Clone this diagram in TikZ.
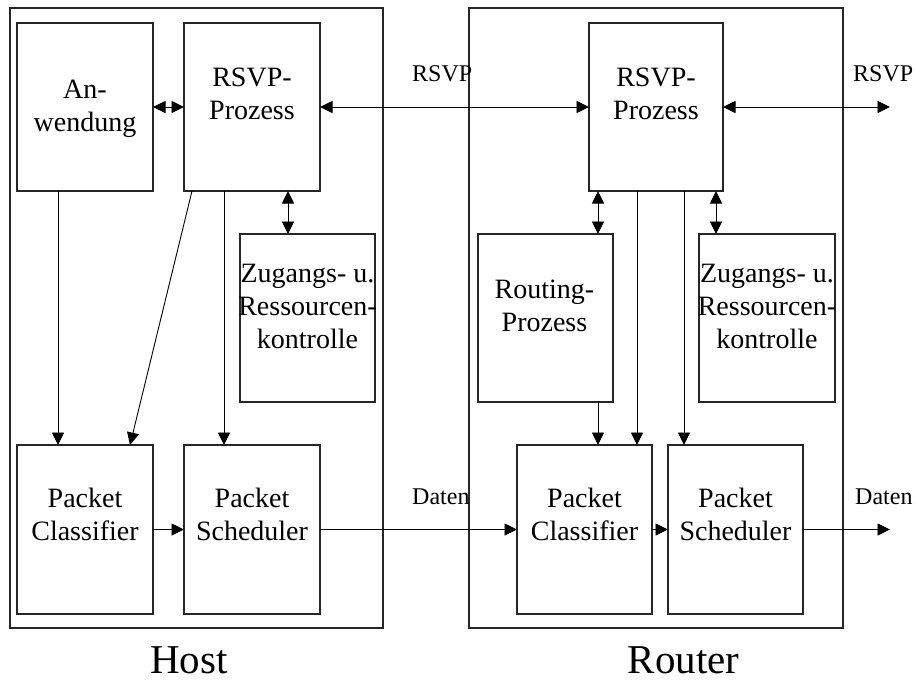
\documentclass[tikz,border=0pt]{standalone}
\usepackage{fontspec}
\setmainfont{Liberation Serif}
\usetikzlibrary{arrows.meta,calc}

\tikzset{
  frame/.style={draw=black!85, line width=1.1pt, inner sep=0pt, outer sep=0pt, anchor=north west},
  unit/.style={draw=black!85, line width=1.1pt, inner sep=0pt, outer sep=0pt, anchor=north west},
  boxtext/.style={font=\fontsize{28}{33}\selectfont, anchor=base, inner sep=0pt},
  sidetext/.style={font=\fontsize{24}{28}\selectfont, anchor=base west, inner sep=0pt},
  bigtext/.style={font=\fontsize{41}{48}\selectfont, anchor=base, inner sep=0pt},
  tip/.tip={Triangle[length=12.5pt,width=12pt]},
  conn/.style={line width=0.9pt, -tip},
  dconn/.style={line width=0.9pt, tip-tip}
}
\newcommand{\twolines}[2]{\begin{tabular}[t]{@{}c@{}}#1\\#2\end{tabular}}
\newcommand{\threelines}[3]{\begin{tabular}[t]{@{}c@{}}#1\\#2\\#3\end{tabular}}

\begin{document}
\begin{tikzpicture}[x=1pt,y=-1pt]
\useasboundingbox (0,0) rectangle (916,681);

% enclosing frames
\node[frame, minimum width=373pt, minimum height=620pt] (host) at (10,8) {};
\node[frame, minimum width=374pt, minimum height=620pt] (router) at (469,8) {};

% host components
\node[unit, minimum width=136pt, minimum height=168pt] (anw)   at (17,23) {};
\node[unit, minimum width=136pt, minimum height=168pt] (rsvpH) at (184,23) {};
\node[unit, minimum width=135pt, minimum height=168pt] (zugH)  at (240,234) {};
\node[unit, minimum width=136pt, minimum height=169pt] (pcH)   at (17,445) {};
\node[unit, minimum width=136pt, minimum height=169pt] (psH)   at (184,445) {};

% router components
\node[unit, minimum width=134pt, minimum height=168pt] (rsvpR) at (589,23) {};
\node[unit, minimum width=135pt, minimum height=168pt] (rout)  at (478,234) {};
\node[unit, minimum width=136pt, minimum height=168pt] (zugR)  at (699,234) {};
\node[unit, minimum width=135pt, minimum height=169pt] (pcR)   at (517,445) {};
\node[unit, minimum width=135pt, minimum height=169pt] (psR)   at (668,445) {};

% box captions
\node[boxtext] (anwT)   at (85,98)    {\twolines{An-}{wendung}};
\node[boxtext] (rsvpHT) at (252,86)   {\twolines{RSVP-}{Prozess}};
\node[boxtext] (zugHT)  at (307.5,282) {\threelines{Zugangs- u.}{Ressourcen-}{kontrolle}};
\node[boxtext] (pcHT)   at (85,507)   {\twolines{Packet}{Classifier}};
\node[boxtext] (psHT)   at (252,507)  {\twolines{Packet}{Scheduler}};
\node[boxtext] (rsvpRT) at (656,86)   {\twolines{RSVP-}{Prozess}};
\node[boxtext] (routT)  at (544.5,298) {\twolines{Routing-}{Prozess}};
\node[boxtext] (zugRT)  at (767,282)  {\threelines{Zugangs- u.}{Ressourcen-}{kontrolle}};
\node[boxtext] (pcRT)   at (584.5,507) {\twolines{Packet}{Classifier}};
\node[boxtext] (psRT)   at (735.5,507) {\twolines{Packet}{Scheduler}};

% flow labels
\node[sidetext] (rsvpL1) at (412,81)  {RSVP};
\node[sidetext] (rsvpL2) at (853,81)  {RSVP};
\node[sidetext] (datL1)  at (412,504) {Daten};
\node[sidetext] (datL2)  at (855,504) {Daten};

% device names
\node[bigtext] (hostT)   at (189,673) {Host};
\node[bigtext] (routerT) at (683.5,673) {Router};

% open ends
\coordinate (outRSVP) at (890,107);
\coordinate (outData) at (890,529.5);

% RSVP signalling
\draw[dconn] (anw.east) -- (rsvpH.west);
\draw[dconn] (rsvpH.east) -- (rsvpR.west);
\draw[dconn] (rsvpR.east) -- (outRSVP);

% host internals
\draw[conn] ([xshift=-27pt]anw.south) -- ([xshift=-27pt]pcH.north);
\draw[conn] ([xshift=-60pt]rsvpH.south) -- ([xshift=45pt]pcH.north);
\draw[conn] ([xshift=-28pt]rsvpH.south) -- ([xshift=-28pt]psH.north);
\draw[dconn] ([xshift=36pt]rsvpH.south) -- ([xshift=-19.5pt]zugH.north);
\draw[conn] (pcH.east) -- (psH.west);

% data path
\draw[conn] (psH.east) -- (pcR.west);
\draw[conn] (pcR.east) -- (psR.west);
\draw[conn] (psR.east) -- (outData);

% router internals
\draw[dconn] ([xshift=-58pt]rsvpR.south) -- ([xshift=52.5pt]rout.north);
\draw[dconn] ([xshift=60pt]rsvpR.south) -- ([xshift=-51pt]zugR.north);
\draw[conn] ([xshift=-19pt]rsvpR.south) -- ([xshift=52.5pt]pcR.north);
\draw[conn] ([xshift=28pt]rsvpR.south) -- ([xshift=-51.5pt]psR.north);
\draw[conn] ([xshift=52.5pt]rout.south) -- ([xshift=13.5pt]pcR.north);
\end{tikzpicture}
\end{document}
